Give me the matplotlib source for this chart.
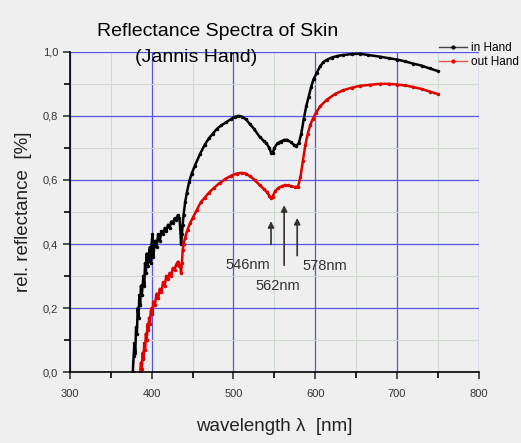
import matplotlib.pyplot as plt
from matplotlib.lines import Line2D
from matplotlib.ticker import MultipleLocator, FuncFormatter

# in Hand (black)
wl_in = [377, 378, 379, 380, 381, 382, 383, 384, 385, 386, 387, 388, 390, 391, 392, 393,
         394, 395, 396, 398, 399, 400, 401, 402, 404, 406, 408, 410, 412, 414, 416, 418,
         420, 422, 424, 426, 428, 430, 432, 434, 435, 436, 437, 438, 439, 441, 443, 446,
         449, 453, 459, 465, 470, 475, 480, 485, 491, 497, 502, 506, 510, 515, 520, 525,
         532, 537, 540, 544, 546, 548, 550, 554, 558, 562, 566, 570, 574, 577, 580, 583,
         586, 589, 592, 595, 598, 602, 606, 610, 614, 620, 627, 634, 645, 655, 665, 679,
         690, 700, 710, 720, 730, 740, 750]
refl_in = [0.0, 0.05, 0.09, 0.06, 0.14, 0.12, 0.2, 0.17, 0.24, 0.21, 0.27, 0.24, 0.3, 0.27,
           0.34, 0.31, 0.37, 0.33, 0.36, 0.39, 0.34, 0.40, 0.43, 0.36, 0.41, 0.39, 0.43, 0.41,
           0.44, 0.43, 0.45, 0.44, 0.46, 0.45, 0.47, 0.465, 0.48, 0.475, 0.49, 0.48, 0.45,
           0.40, 0.43, 0.46, 0.49, 0.53, 0.56, 0.595, 0.62, 0.645, 0.68, 0.71, 0.73, 0.745,
           0.76, 0.77, 0.78, 0.79, 0.797, 0.80, 0.798, 0.79, 0.775, 0.76, 0.735, 0.722, 0.715,
           0.70, 0.685, 0.683, 0.70, 0.715, 0.72, 0.725, 0.725, 0.718, 0.71, 0.706, 0.715,
           0.745, 0.79, 0.83, 0.86, 0.89, 0.915, 0.935, 0.955, 0.968, 0.975, 0.982, 0.987,
           0.99, 0.993, 0.994, 0.99, 0.985, 0.98, 0.976, 0.97, 0.963, 0.957, 0.948, 0.94]

# out Hand (red)
wl_out = [386, 387, 388, 389, 390, 391, 392, 393, 394, 395, 396, 397, 398, 399, 400, 401,
          402, 404, 406, 408, 410, 412, 414, 416, 418, 420, 422, 424, 426, 428, 430, 432,
          434, 435, 436, 437, 438, 439, 441, 444, 447, 450, 455, 460, 465, 470, 476, 483,
          490, 497, 504, 510, 515, 520, 526, 532, 537, 541, 544, 546, 548, 551, 555, 559,
          563, 567, 571, 575, 579, 582, 585, 588, 591, 594, 597, 601, 606, 614, 624, 634,
          645, 655, 667, 679, 690, 700, 710, 720, 730, 740, 750]
refl_out = [0.0, 0.03, 0.01, 0.06, 0.04, 0.09, 0.07, 0.12, 0.10, 0.15, 0.13, 0.17, 0.15,
            0.19, 0.2, 0.18, 0.22, 0.21, 0.245, 0.23, 0.26, 0.25, 0.28, 0.27, 0.30, 0.29,
            0.31, 0.30, 0.325, 0.32, 0.335, 0.345, 0.33, 0.335, 0.31, 0.34, 0.38, 0.40, 0.42,
            0.445, 0.465, 0.48, 0.505, 0.53, 0.545, 0.56, 0.575, 0.59, 0.603, 0.613, 0.62,
            0.622, 0.62, 0.612, 0.60, 0.584, 0.572, 0.562, 0.55, 0.543, 0.548, 0.565, 0.575,
            0.58, 0.584, 0.583, 0.58, 0.578, 0.579, 0.61, 0.66, 0.71, 0.745, 0.772, 0.79, 0.81,
            0.83, 0.85, 0.868, 0.88, 0.888, 0.894, 0.897, 0.9, 0.9, 0.898, 0.895, 0.89, 0.884,
            0.876, 0.868]

peaks = [546, 562, 578]
arrow_from = [0.39, 0.325, 0.355]
arrow_to = [0.48, 0.53, 0.49]
label_pos = [(518, 0.335), (554, 0.27), (612, 0.33)]

plt.rcParams['font.family'] = ['Liberation Sans', 'DejaVu Sans']
bg = '#efefef'
red = '#e00000'

fig = plt.figure(figsize=(5.21, 4.43), dpi=100, facecolor=bg)
ax = fig.add_axes([0.134, 0.160, 0.785, 0.723], facecolor=bg)

ax.plot(wl_in, refl_in, color='k', lw=1.8, marker='.', ms=3)
ax.plot(wl_out, refl_out, color=red, lw=1.8, marker='.', ms=3)

for p, y0, y1, (lx, ly) in zip(peaks, arrow_from, arrow_to, label_pos):
    ax.annotate('', xy=(p, y1), xytext=(p, y0),
                arrowprops=dict(arrowstyle='-|>', color='#333333', lw=1.2, mutation_scale=9))
    ax.text(lx, ly, f'{p}nm', ha='center', va='center', fontsize=10.5, color='#333333')

ax.set_xlim(300, 800)
ax.set_ylim(0, 1.0)
ax.xaxis.set_major_locator(MultipleLocator(100))
ax.xaxis.set_minor_locator(MultipleLocator(50))
ax.yaxis.set_major_locator(MultipleLocator(0.2))
ax.yaxis.set_minor_locator(MultipleLocator(0.1))
ax.yaxis.set_major_formatter(FuncFormatter(lambda v, p: f'{v:.1f}'.replace('.', ',')))

ax.grid(which='major', color='#5555dd', lw=0.9)
ax.grid(which='minor', color='#d0dcd0', lw=0.8)
ax.set_axisbelow(True)

for s in ['top', 'right']:
    ax.spines[s].set_visible(False)
ax.spines['left'].set_linewidth(1.2)
ax.spines['bottom'].set_linewidth(1.2)
ax.tick_params(which='major', length=5, width=1.2, labelsize=8, colors='#333333')
ax.tick_params(axis='x', which='major', pad=7)
ax.tick_params(which='minor', length=4, width=1.2)

ax.set_xlabel('wavelength λ  [nm]', fontsize=13.5, color='#222222', labelpad=14)
ax.set_ylabel('rel. reflectance  [%]', fontsize=13.5, color='#222222', labelpad=8)

fig.text(0.418, 0.930, 'Reflectance Spectra of Skin', ha='center', va='center', fontsize=14)
fig.text(0.376, 0.871, '(Jannis Hand)', ha='center', va='center', fontsize=14)

handles = [Line2D([], [], color='#444444', lw=1, marker='.', ms=4, mfc='k', mec='k'),
           Line2D([], [], color='#ee5555', lw=1, marker='.', ms=4, mfc=red, mec=red)]
fig.legend(handles, ['in Hand', 'out Hand'], loc='upper right', bbox_to_anchor=(1.005, 0.915),
           frameon=False, fontsize=8.5, handlelength=2.4, handletextpad=0.3,
           labelspacing=0.15, borderaxespad=0)

fig.savefig('out.png', dpi=100, facecolor=bg)
